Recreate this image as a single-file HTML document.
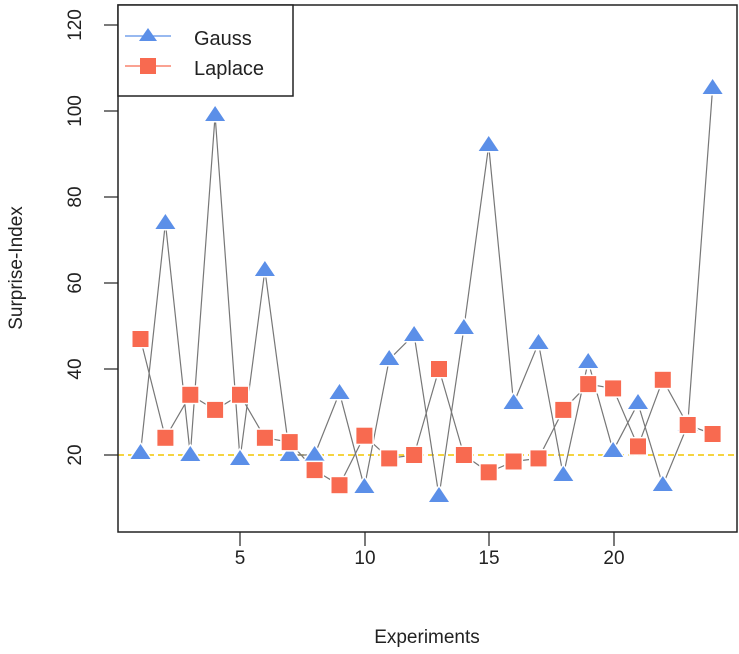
<!DOCTYPE html>
<html><head><meta charset="utf-8"><style>body{margin:0;background:#fff}svg{display:block}</style></head><body>
<svg width="739" height="654" xmlns="http://www.w3.org/2000/svg" font-family="Liberation Sans, Arial, sans-serif">
<rect width="739" height="654" fill="#fff"/>
<line x1="118" y1="455" x2="737" y2="455" stroke="#f2c500" stroke-width="1.5" stroke-dasharray="6,4"/>
<g fill="none" stroke="#777" stroke-width="1.2">
<polyline points="140.5,452.9 165.4,222.8 190.3,455.0 215.1,115.3 240.0,459.3 264.9,270.1 289.7,455.0 314.6,455.0 339.5,392.7 364.4,487.3 389.2,359.4 414.1,334.6 439.0,496.3 463.9,328.2 488.7,145.4 513.6,403.4 538.5,343.2 563.3,475.5 588.2,361.6 613.1,450.7 638.0,403.4 662.8,485.2 687.7,425.0 712.6,88.2"/>
<polyline points="140.5,339.0 165.4,437.8 190.3,394.8 215.1,409.9 240.0,394.8 264.9,437.8 289.7,442.1 314.6,470.1 339.5,485.2 364.4,435.7 389.2,458.4 414.1,455.0 439.0,369.0 463.9,455.0 488.7,472.3 513.6,461.5 538.5,458.4 563.3,409.9 588.2,384.1 613.1,388.4 638.0,446.4 662.8,379.8 687.7,425.0 712.6,434.0"/>
</g>
<g fill="#5b8fe8" stroke="#fff" stroke-width="3" paint-order="stroke">
<path d="M140.5,444l10,15h-20z"/><path d="M165.4,214l10,15h-20z"/><path d="M190.3,446l10,15h-20z"/><path d="M215.1,106l10,15h-20z"/><path d="M240,450l10,15h-20z"/><path d="M264.9,261l10,15h-20z"/><path d="M289.7,446l10,15h-20z"/><path d="M314.6,446l10,15h-20z"/><path d="M339.5,384l10,15h-20z"/><path d="M364.4,478l10,15h-20z"/><path d="M389.2,350l10,15h-20z"/><path d="M414.1,326l10,15h-20z"/><path d="M439,487l10,15h-20z"/><path d="M463.9,319l10,15h-20z"/><path d="M488.7,136l10,15h-20z"/><path d="M513.6,394l10,15h-20z"/><path d="M538.5,334l10,15h-20z"/><path d="M563.3,466l10,15h-20z"/><path d="M588.2,353l10,15h-20z"/><path d="M613.1,442l10,15h-20z"/><path d="M638,394l10,15h-20z"/><path d="M662.8,476l10,15h-20z"/><path d="M687.7,416l10,15h-20z"/><path d="M712.6,79l10,15h-20z"/>
</g>
<g fill="#f86a50" stroke="#fff" stroke-width="3" paint-order="stroke">
<rect x="132.5" y="331" width="16" height="16"/><rect x="157.4" y="429.8" width="16" height="16"/><rect x="182.3" y="386.8" width="16" height="16"/><rect x="207.1" y="401.9" width="16" height="16"/><rect x="232" y="386.8" width="16" height="16"/><rect x="256.9" y="429.8" width="16" height="16"/><rect x="281.7" y="434.1" width="16" height="16"/><rect x="306.6" y="462.1" width="16" height="16"/><rect x="331.5" y="477.2" width="16" height="16"/><rect x="356.4" y="427.7" width="16" height="16"/><rect x="381.2" y="450.4" width="16" height="16"/><rect x="406.1" y="447" width="16" height="16"/><rect x="431" y="361" width="16" height="16"/><rect x="455.9" y="447" width="16" height="16"/><rect x="480.7" y="464.3" width="16" height="16"/><rect x="505.6" y="453.5" width="16" height="16"/><rect x="530.5" y="450.4" width="16" height="16"/><rect x="555.3" y="401.9" width="16" height="16"/><rect x="580.2" y="376.1" width="16" height="16"/><rect x="605.1" y="380.4" width="16" height="16"/><rect x="630" y="438.4" width="16" height="16"/><rect x="654.8" y="371.8" width="16" height="16"/><rect x="679.7" y="417" width="16" height="16"/><rect x="704.6" y="426" width="16" height="16"/>
</g>
<rect x="118" y="5" width="619" height="527" fill="none" stroke="#222" stroke-width="1.5"/>
<g stroke="#222" stroke-width="1.2">
<line x1="104" y1="25" x2="118" y2="25"/><line x1="104" y1="111" x2="118" y2="111"/><line x1="104" y1="197" x2="118" y2="197"/><line x1="104" y1="283" x2="118" y2="283"/><line x1="104" y1="369" x2="118" y2="369"/><line x1="104" y1="455" x2="118" y2="455"/>
<line x1="240" y1="532" x2="240" y2="546"/><line x1="365" y1="532" x2="365" y2="546"/><line x1="489" y1="532" x2="489" y2="546"/><line x1="614" y1="532" x2="614" y2="546"/>
</g>
<g font-size="19" fill="#222" text-anchor="middle">
<text transform="translate(81,25) rotate(-90)">120</text>
<text transform="translate(81,111) rotate(-90)">100</text>
<text transform="translate(81,197) rotate(-90)">80</text>
<text transform="translate(81,283) rotate(-90)">60</text>
<text transform="translate(81,369) rotate(-90)">40</text>
<text transform="translate(81,455) rotate(-90)">20</text>
<text x="240" y="564">5</text><text x="365" y="564">10</text><text x="489" y="564">15</text><text x="614" y="564">20</text>
<text x="427" y="643">Experiments</text>
<text transform="translate(22,268) rotate(-90)">Surprise-Index</text>
</g>
<rect x="118" y="5" width="175" height="91" fill="#fff" stroke="#222" stroke-width="1.5"/>
<line x1="125" y1="36" x2="171" y2="36" stroke="#5b8fe8" stroke-width="1.2"/>
<path d="M148,28l9,13h-18z" fill="#5b8fe8"/>
<line x1="125" y1="66" x2="171" y2="66" stroke="#f86a50" stroke-width="1.2"/>
<rect x="140" y="58" width="16" height="16" fill="#f86a50"/>
<text x="194" y="45" font-size="20" fill="#222">Gauss</text>
<text x="194" y="75" font-size="20" fill="#222">Laplace</text>
</svg>
</body></html>
